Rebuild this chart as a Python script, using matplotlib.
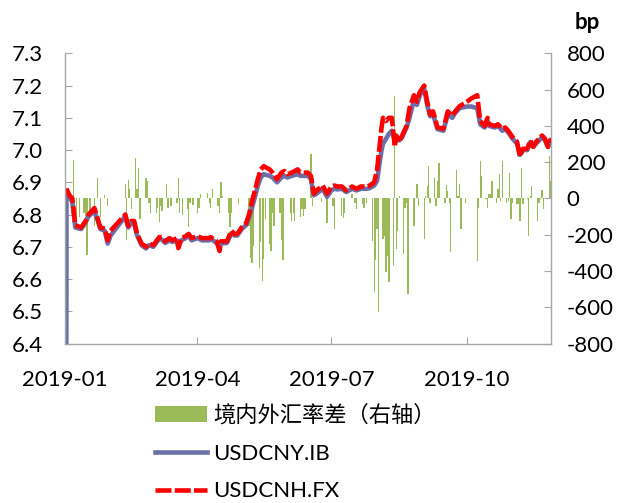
import numpy as np
import pandas as pd
import matplotlib
matplotlib.use("Agg")
import matplotlib.pyplot as plt
import matplotlib.dates as mdates

plt.rcParams["font.family"] = ["Lato", "Noto Sans CJK SC", "DejaVu Sans"]
plt.rcParams["axes.unicode_minus"] = False

# USDCNY / USDCNH levels (left axis)
line_dates = [
    "2019-01-01", "2019-01-02", "2019-01-04", "2019-01-06", "2019-01-08", "2019-01-12", "2019-01-15",
    "2019-01-17", "2019-01-21", "2019-01-23", "2019-01-25", "2019-01-28", "2019-01-30",
    "2019-02-01", "2019-02-11", "2019-02-12", "2019-02-13", "2019-02-15", "2019-02-17", "2019-02-19",
    "2019-02-22", "2019-02-25", "2019-02-27",
    "2019-03-02", "2019-03-06", "2019-03-08", "2019-03-10", "2019-03-13", "2019-03-15", "2019-03-18",
    "2019-03-19", "2019-03-21", "2019-03-24", "2019-03-26", "2019-03-28",
    "2019-04-01", "2019-04-04", "2019-04-09", "2019-04-10", "2019-04-14", "2019-04-16", "2019-04-17",
    "2019-04-21", "2019-04-24", "2019-04-26", "2019-04-28",
    "2019-05-01", "2019-05-04", "2019-05-06", "2019-05-08", "2019-05-10", "2019-05-12", "2019-05-14",
    "2019-05-16", "2019-05-20", "2019-05-22", "2019-05-25", "2019-05-28", "2019-05-30",
    "2019-06-01", "2019-06-04", "2019-06-08", "2019-06-10", "2019-06-15", "2019-06-17", "2019-06-19",
    "2019-06-21", "2019-06-25", "2019-06-28",
    "2019-07-01", "2019-07-03", "2019-07-05", "2019-07-08", "2019-07-11", "2019-07-15", "2019-07-18",
    "2019-07-21", "2019-07-25", "2019-07-27", "2019-07-30",
    "2019-08-01", "2019-08-03", "2019-08-04", "2019-08-05", "2019-08-07", "2019-08-09", "2019-08-11",
    "2019-08-13", "2019-08-14", "2019-08-16", "2019-08-18", "2019-08-21", "2019-08-23", "2019-08-26",
    "2019-08-28", "2019-08-30",
    "2019-09-02", "2019-09-04", "2019-09-06", "2019-09-08", "2019-09-11", "2019-09-15", "2019-09-18",
    "2019-09-21", "2019-09-23", "2019-09-26",
    "2019-10-01", "2019-10-04", "2019-10-08", "2019-10-10", "2019-10-13", "2019-10-15", "2019-10-16",
    "2019-10-20", "2019-10-22", "2019-10-25", "2019-10-27", "2019-10-29",
    "2019-11-01", "2019-11-04", "2019-11-06", "2019-11-08", "2019-11-11", "2019-11-13", "2019-11-15",
    "2019-11-17", "2019-11-21", "2019-11-23", "2019-11-25", "2019-11-27",
]
usdcny = [
    0.0, 6.875, 6.855, 6.84, 6.76, 6.755, 6.775, 6.795, 6.81, 6.785, 6.755, 6.75, 6.71,
    6.735, 6.795, 6.775, 6.76, 6.775, 6.77, 6.735, 6.705, 6.695, 6.705,
    6.70, 6.725, 6.722, 6.712, 6.72, 6.715, 6.72, 6.70, 6.72, 6.727, 6.735, 6.72,
    6.727, 6.72, 6.72, 6.725, 6.712, 6.70, 6.71, 6.712, 6.742, 6.735, 6.735,
    6.755, 6.767, 6.79, 6.82, 6.855, 6.89, 6.915, 6.925, 6.92, 6.915, 6.90, 6.915, 6.92,
    6.915, 6.92, 6.925, 6.92, 6.92, 6.91, 6.86, 6.865, 6.88, 6.855,
    6.875, 6.88, 6.878, 6.88, 6.87, 6.88, 6.875, 6.88, 6.88, 6.882, 6.89,
    6.905, 6.97, 7.00, 7.02, 7.035, 7.05, 7.06, 7.03, 7.035, 7.03, 7.04, 7.07, 7.10, 7.155, 7.14, 7.17,
    7.19, 7.14, 7.105, 7.11, 7.065, 7.06, 7.11, 7.10, 7.115, 7.13,
    7.135, 7.135, 7.13, 7.08, 7.07, 7.09, 7.075, 7.07, 7.075, 7.06, 7.065, 7.055,
    7.035, 7.02, 6.985, 7.00, 7.00, 7.025, 7.01, 7.02, 7.04, 7.03, 7.01, 7.03,
]
usdcnh = [
    np.nan, 6.88, 6.86, 6.85, 6.767, 6.76, 6.78, 6.80, 6.82, 6.79, 6.76, 6.757, 6.72,
    6.75, 6.80, 6.78, 6.765, 6.78, 6.78, 6.74, 6.71, 6.70, 6.71,
    6.705, 6.73, 6.73, 6.717, 6.727, 6.72, 6.727, 6.696, 6.727, 6.733, 6.74, 6.727,
    6.733, 6.727, 6.727, 6.73, 6.717, 6.687, 6.717, 6.717, 6.75, 6.74, 6.74,
    6.76, 6.773, 6.80, 6.84, 6.875, 6.91, 6.94, 6.95, 6.94, 6.93, 6.91, 6.93, 6.935,
    6.925, 6.93, 6.94, 6.93, 6.93, 6.92, 6.865, 6.875, 6.89, 6.865,
    6.887, 6.89, 6.887, 6.887, 6.875, 6.887, 6.88, 6.887, 6.887, 6.89, 6.90,
    6.94, 7.025, 7.07, 7.10, 7.09, 7.10, 7.10, 7.01, 7.045, 7.025, 7.045, 7.075, 7.13, 7.17, 7.15, 7.18,
    7.20, 7.15, 7.11, 7.12, 7.07, 7.066, 7.12, 7.106, 7.12, 7.136,
    7.15, 7.16, 7.17, 7.09, 7.075, 7.10, 7.08, 7.075, 7.08, 7.066, 7.07, 7.06,
    7.04, 7.026, 6.98, 7.004, 7.004, 7.03, 7.01, 7.026, 7.045, 7.035, 7.01, 7.035,
]

# onshore-offshore spread in bp (right axis)
spread_dates = [
    "2019-01-04", "2019-01-07", "2019-01-09", "2019-01-11", "2019-01-14", "2019-01-15", "2019-01-16",
    "2019-01-18", "2019-01-21", "2019-01-23", "2019-01-25", "2019-01-28", "2019-01-30",
    "2019-02-11", "2019-02-12", "2019-02-13", "2019-02-14", "2019-02-15", "2019-02-18", "2019-02-19",
    "2019-02-20", "2019-02-21", "2019-02-25", "2019-02-26", "2019-02-27", "2019-02-28",
    "2019-03-04", "2019-03-05", "2019-03-06", "2019-03-07", "2019-03-08", "2019-03-11", "2019-03-12",
    "2019-03-14", "2019-03-18", "2019-03-19", "2019-03-20", "2019-03-22", "2019-03-25", "2019-03-26",
    "2019-03-27", "2019-03-29",
    "2019-04-01", "2019-04-02", "2019-04-03", "2019-04-08", "2019-04-09", "2019-04-10", "2019-04-11",
    "2019-04-15", "2019-04-16", "2019-04-17", "2019-04-18", "2019-04-22", "2019-04-23", "2019-04-24",
    "2019-04-29",
    "2019-05-06", "2019-05-07", "2019-05-08", "2019-05-09", "2019-05-13", "2019-05-14", "2019-05-15",
    "2019-05-16", "2019-05-17", "2019-05-20", "2019-05-21", "2019-05-22", "2019-05-23", "2019-05-27",
    "2019-05-28", "2019-05-29",
    "2019-06-03", "2019-06-04", "2019-06-05", "2019-06-06", "2019-06-10", "2019-06-11", "2019-06-12",
    "2019-06-13", "2019-06-17", "2019-06-18", "2019-06-19", "2019-06-21", "2019-06-24", "2019-06-28",
    "2019-07-02", "2019-07-03", "2019-07-08", "2019-07-09", "2019-07-10", "2019-07-15", "2019-07-17",
    "2019-07-18", "2019-07-22", "2019-07-23", "2019-07-25", "2019-07-29", "2019-07-30", "2019-07-31",
    "2019-08-01", "2019-08-02", "2019-08-05", "2019-08-06", "2019-08-07", "2019-08-08", "2019-08-09",
    "2019-08-12", "2019-08-13", "2019-08-14", "2019-08-15", "2019-08-16", "2019-08-19", "2019-08-20",
    "2019-08-21", "2019-08-22", "2019-08-26", "2019-08-28", "2019-08-29",
    "2019-09-02", "2019-09-03", "2019-09-04", "2019-09-05", "2019-09-06", "2019-09-09", "2019-09-10",
    "2019-09-11", "2019-09-12", "2019-09-16", "2019-09-17", "2019-09-18", "2019-09-19", "2019-09-20",
    "2019-09-23", "2019-09-24", "2019-09-25", "2019-09-26", "2019-09-27", "2019-09-30",
    "2019-10-08", "2019-10-09", "2019-10-10", "2019-10-11", "2019-10-14", "2019-10-15", "2019-10-16",
    "2019-10-17", "2019-10-18", "2019-10-21", "2019-10-22", "2019-10-23", "2019-10-24", "2019-10-25",
    "2019-10-28", "2019-10-29", "2019-10-30", "2019-10-31",
    "2019-11-01", "2019-11-04", "2019-11-05", "2019-11-06", "2019-11-07", "2019-11-08", "2019-11-11",
    "2019-11-12", "2019-11-13", "2019-11-14", "2019-11-18", "2019-11-19", "2019-11-20", "2019-11-21",
    "2019-11-22", "2019-11-25", "2019-11-26", "2019-11-27",
]
spread_bp = [
    30, 210, -110, -100, -80, -110, -310, -80, -150, 115, -100, 20, -40,
    82, -228, 104, 50, -60, 225, 50, 170, -115, 115, 95, -25, -80,
    -80, -50, -130, -40, -70, 80, -50, -40, -25, 115, -80, -90, -60, -160, -25, -35,
    -80, -50, 22, 30, -25, -50, 50, -40, -80, 90, 12, -80, -160, -80, -30,
    -150, -330, -355, -260, -385, -240, -455, -335, -115, -250, -290, -80, -150, -80, -230, -340,
    -80, -125, -80, -125, -105, -60, -95, -60, 247, -42, 113, 5, -20, -133,
    -42, -170, -97, -106, -79, 22, -24, -60, -33, -51, -24, -237, -515, -342,
    -170, -625, -225, -205, -407, -316, -462, -370, 565, -280, -179, 12, -307, -51, -24, -525, -152, 82, -42,
    -225, 13, 67, 180, -24, 113, -42, 95, 195, -24, 73, 40, -24, -298, 4, 158, 13, 77, -170, -24,
    -345, -51, 209, 122, -5, -51, 22, 22, 95, -24, 53, 135, -15, 208, -24, -15, 140, -115,
    -24, -33, -33, -124, 168, -33, -2, -206, 13, 67, -124, -24, -5, 45, -60, 4, 232, 95,
]

assert len(line_dates) == len(usdcny) == len(usdcnh)
assert len(spread_dates) == len(spread_bp)

ld = pd.to_datetime(line_dates)
sd = pd.to_datetime(spread_dates)

grey = "#A6A6A6"
fig = plt.figure(figsize=(6.32, 5.03), dpi=100)
ax = fig.add_axes([0.1028, 0.317, 0.7698, 0.577])
ax2 = ax.twinx()

bars = ax2.bar(sd, spread_bp, width=0.9, color="#9BBB59", label="境内外汇率差（右轴）")
l1, = ax.plot(ld, usdcny, color="#6B70A8", lw=3.3, label="USDCNY.IB")
l2, = ax.plot(ld, usdcnh, color="#FF0000", lw=3.3, ls=(0, (3.5, 0.7)), label="USDCNH.FX")

ax.set_zorder(ax2.get_zorder() + 1)
ax.patch.set_visible(False)

ax.set_ylim(6.4, 7.3)
ax.set_yticks(np.arange(6.4, 7.301, 0.1))
ax.yaxis.set_major_formatter(plt.FormatStrFormatter("%.1f"))
ax2.set_ylim(-800, 800)
ax2.set_yticks(np.arange(-800, 801, 200))
ax.set_xlim(pd.Timestamp("2019-01-01"), pd.Timestamp("2019-11-27 10:00"))
ax.set_xticks(pd.to_datetime(["2019-01-01", "2019-04-01", "2019-07-01", "2019-10-01"]))
ax.xaxis.set_major_formatter(mdates.DateFormatter("%Y-%m"))

for a in (ax, ax2):
    for s in a.spines.values():
        s.set_color(grey)
        s.set_linewidth(1.0)
    a.spines["top"].set_visible(False)
ax.spines["right"].set_visible(False)
ax2.spines["left"].set_visible(False)
ax2.spines["bottom"].set_visible(False)

ax.tick_params(axis="y", direction="in", length=5, color=grey, labelsize=16, pad=16)
ax.tick_params(axis="x", direction="in", length=5, color=grey, labelsize=16, pad=19)
ax2.tick_params(axis="y", direction="in", length=5, color=grey, labelsize=16, pad=11)

fig.text(0.91, 0.956, "bp", fontsize=16, fontweight="bold", ha="left", va="center")

fig.legend(handles=[bars, l1, l2], loc="upper left", bbox_to_anchor=(0.246, 0.196),
           frameon=False, fontsize=16, handlelength=2.3, handletextpad=0.3,
           labelspacing=0.8, borderaxespad=0, borderpad=0)

fig.savefig("out.png", dpi=100)
